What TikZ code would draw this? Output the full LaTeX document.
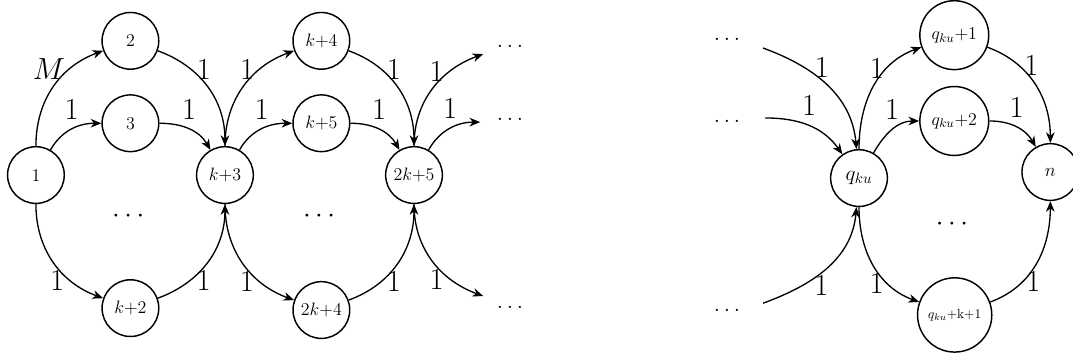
\RequirePackage{fix-cm}
\documentclass[tikz,border=0pt]{standalone}
\usepackage{amsmath,amssymb}
\usetikzlibrary{arrows.meta, positioning}

\begin{document}
\begin{tikzpicture}[>={Stealth[length=8pt, width=6.5pt, inset=2.5pt]}]
        \tikzstyle{vertex} = [circle, draw=black, line width=1.1pt, minimum size=1.5cm, text centered, font=\fontsize{13.5}{16}\selectfont]
        \tikzstyle{arrow} = [line width=1pt,->]
        \tikzstyle{wt} = [font=\fontsize{23}{27}\selectfont, inner sep=2pt]
        \tikzstyle{gap} = [font=\LARGE, inner sep=0pt]

        \useasboundingbox (-0.95,-4.84) rectangle (27.43,4.63);

        % First block
        \node (v1) [vertex] at (0,0) {1};
        \node (v2) [vertex] at (2.5,3.55) {2};
        \node (v3) [vertex] at (2.5,1.37) {3};
        \node (vd1) [gap, font=\huge] at (2.5,-1.1) {$\cdots$};
        \node (vk2) [vertex] at (2.5,-3.52) {$k$+2};
        \node (vk3) [vertex] at (5,0) {$k$+3};

        % Second block
        \node (vk4) [vertex] at (7.55,3.55) {$k$+4};
        \node (vk5) [vertex] at (7.55,1.37) {$k$+5};
        \node (vd2) [gap, font=\huge] at (7.55,-1.1) {$\cdots$};
        \node (v2k4) [vertex] at (7.55,-3.57) {2$k$+4};
        \node (v2k5) [vertex] at (10,0) {2$k$+5};

        % Loose ends
        \coordinate (o1) at (11.83,3.2);
        \coordinate (o2) at (11.75,1.4);
        \coordinate (o3) at (11.83,-3.2);
        \node (ro1) [gap] at (12.54,3.39) {$\ldots$};
        \node (ro2) [gap] at (12.54,1.46) {$\ldots$};
        \node (ro3) [gap] at (12.54,-3.49) {$\ldots$};
        \node (lo1) [gap] at (18.28,3.6) {$\ldots$};
        \node (lo2) [gap] at (18.28,1.42) {$\ldots$};
        \node (lo3) [gap] at (18.28,-3.57) {$\ldots$};
        \coordinate (i1) at (19.23,3.36);
        \coordinate (i2) at (19.29,1.51);
        \coordinate (i3) at (19.23,-3.39);

        % Last block
        \node (vq) [vertex, font=\fontsize{16}{19}\selectfont] at (21.77,-0.08) {$q_{ku}$};
        \node (vq1) [vertex, inner sep=6pt] at (24.29,3.70) {$q_{ku}$+1};
        \node (vq2) [vertex, inner sep=6pt] at (24.29,1.43) {$q_{ku}$+2};
        \node (vqd) [gap, font=\huge] at (24.29,-1.3) {$\cdots$};
        \node (vqk) [vertex, font=\normalsize, inner sep=6pt] at (24.3,-3.70) {$q_{ku}$+k+1};
        \node (vn) [vertex, font=\fontsize{14}{17}\selectfont] at (26.83,0.08) {$n$};

        % Arrows, first block
        \draw [arrow] (v1) to[out=90,in=200] node[wt, above, pos=0.55, xshift=-6pt] {$M$} (v2);
        \draw [arrow] (v1) to[out=60,in=180] node[wt, above=5pt] {1} (v3);
        \draw [arrow] (v1) to[out=270,in=160] node[wt, below, pos=0.55] {1} (vk2);
        \draw [arrow] (v2) to[out=-20,in=90] node[wt, above, pos=0.45] {1} (vk3);
        \draw [arrow] (v3) to[out=0,in=120] node[wt, above=5pt] {1} (vk3);
        \draw [arrow] (vk2) to[out=20,in=270] node[wt, below, pos=0.45] {1} (vk3);

        % Arrows, second block
        \draw [arrow] (vk3) to[out=90,in=200] node[wt, above, pos=0.55] {1} (vk4);
        \draw [arrow] (vk3) to[out=60,in=180] node[wt, above=5pt] {1} (vk5);
        \draw [arrow] (vk3) to[out=270,in=160] node[wt, below, pos=0.55] {1} (v2k4);
        \draw [arrow] (vk4) to[out=-20,in=90] node[wt, above, pos=0.45] {1} (v2k5);
        \draw [arrow] (vk5) to[out=0,in=120] node[wt, above=5pt] {1} (v2k5);
        \draw [arrow] (v2k4) to[out=20,in=270] node[wt, below, pos=0.45] {1} (v2k5);

        % Arrows, loose ends
        \draw [arrow] (v2k5) to[out=90,in=200] node[wt, above, pos=0.55] {1} (o1);
        \draw [arrow] (v2k5) to[out=60,in=180] node[wt, above=5pt] {1} (o2);
        \draw [arrow] (v2k5) to[out=270,in=160] node[wt, below, pos=0.55] {1} (o3);
        \draw [arrow] (i1) to[out=-20,in=95] node[wt, above, pos=0.45] {1} (vq);
        \draw [arrow] (i2) to[out=0,in=125] node[wt, above=5pt] {1} (vq);
        \draw [arrow] (i3) to[out=20,in=265] node[wt, below, pos=0.45] {1} (vq);

        % Arrows, last block
        \draw [arrow] (vq) to[out=90,in=200] node[wt, above, pos=0.55] {1} (vq1);
        \draw [arrow] (vq) to[out=60,in=180] node[wt, above=5pt] {1} (vq2);
        \draw [arrow] (vq) to[out=270,in=160] node[wt, below, pos=0.55] {1} (vqk);
        \draw [arrow] (vq1) to[out=-20,in=90] node[wt, above, pos=0.45] {1} (vn);
        \draw [arrow] (vq2) to[out=0,in=120] node[wt, above=5pt] {1} (vn);
        \draw [arrow] (vqk) to[out=20,in=270] node[wt, below, pos=0.45] {1} (vn);
    \end{tikzpicture}
\end{document}
